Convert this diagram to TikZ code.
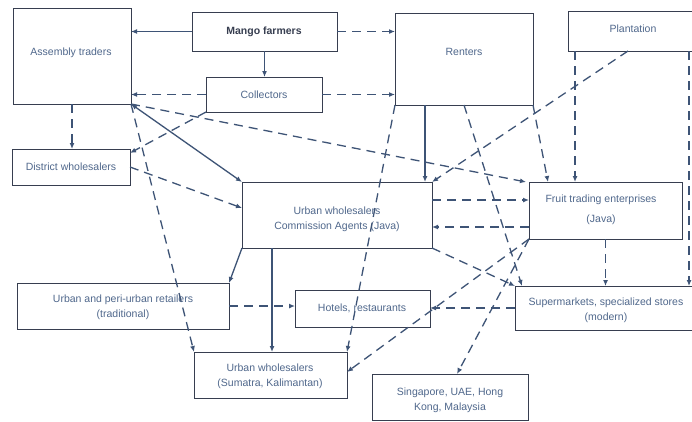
\documentclass[tikz,border=0pt]{standalone}
\usepackage{fontspec}
\setmainfont{Liberation Sans}
\usetikzlibrary{arrows.meta,calc}
\definecolor{linecol}{RGB}{62,84,118}
\definecolor{boxcol}{RGB}{55,62,80}
\definecolor{txtcol}{RGB}{80,104,140}
\tikzset{
  chainbox/.style={draw=boxcol, line width=1pt, inner sep=0pt, outer sep=0pt, anchor=north west},
  lbl/.style={text=txtcol, align=center, font=\fontsize{10.5}{15}\selectfont, inner sep=0pt},
  flow/.style={draw=linecol, line width=1.3pt, -{Latex[length=6pt,width=5pt]}},
  flowdash/.style={flow, dash pattern=on 9pt off 6pt},
}
\begin{document}
\begin{tikzpicture}[x=1pt,y=-1pt]
\clip (0,0) rectangle (692,421);
\fill[white] (0,0) rectangle (692,421);

% boxes
\node[chainbox, minimum width=118, minimum height=96] (assembly) at (13,8) {};
\node[chainbox, minimum width=145, minimum height=39] (mango) at (192,12) {};
\node[chainbox, minimum width=116, minimum height=35] (collectors) at (206,77) {};
\node[chainbox, minimum width=118, minimum height=36] (district) at (12,149) {};
\node[chainbox, minimum width=138, minimum height=92] (renters) at (395,13) {};
\node[chainbox, minimum width=137, minimum height=40] (plantation) at (568,11) {};
\node[chainbox, minimum width=190, minimum height=66] (ujava) at (242,182) {};
\node[chainbox, minimum width=153, minimum height=57] (fruit) at (529,182) {};
\node[chainbox, minimum width=212, minimum height=46] (retail) at (17,283) {};
\node[chainbox, minimum width=135, minimum height=37] (hotels) at (295,290) {};
\node[chainbox, minimum width=190, minimum height=44] (super) at (515,286) {};
\node[chainbox, minimum width=153, minimum height=46] (sumatra) at (194,352) {};
\node[chainbox, minimum width=156, minimum height=46] (singapore) at (372,374) {};

% labels
\node[lbl] (t-assembly) at (71,53) {Assembly traders};
\node[lbl, font=\fontsize{10.5}{15}\selectfont\bfseries, text=boxcol] (t-mango) at (264,32) {Mango farmers};
\node[lbl] (t-collectors) at (264,95) {Collectors};
\node[lbl] (t-district) at (71,167) {District wholesalers};
\node[lbl] (t-renters) at (464,52) {Renters};
\node[lbl] (t-plantation) at (633,29) {Plantation};
\node[lbl] (t-ujava) at (337,219) {Urban wholesalers\\Commission Agents (Java)};
\node[lbl] (t-fruit) at (601,210) {Fruit trading enterprises\\[5pt](Java)};
\node[lbl] (t-retail) at (123,307) {Urban and peri-urban retailers\\(traditional)};
\node[lbl] (t-hotels) at (362,308) {Hotels, restaurants};
\node[lbl] (t-super) at (606,310) {Supermarkets, specialized stores\\(modern)};
\node[lbl] (t-sumatra) at (270,376) {Urban wholesalers\\(Sumatra, Kalimantan)};
\node[lbl] (t-singapore) at (450,400) {Singapore, UAE, Hong\\Kong, Malaysia};

% helper points on box edges
\coordinate (r1) at ([xshift=-7pt]ujava.north east);
\coordinate (u1) at ([xshift=30pt]ujava.south west);
\coordinate (u2) at ([yshift=-18pt]ujava.north east);
\coordinate (u3) at ([yshift=-45pt]ujava.north east);
\coordinate (p1) at ([xshift=7pt]plantation.south west);
\coordinate (p2) at ([xshift=121pt]plantation.south west);
\coordinate (p3) at ([xshift=60pt]plantation.south west);

% solid flows
\draw[flow] (mango.west) -- (mango.west -| assembly.east);
\draw[flow] (mango.south) -- (mango.south |- collectors.north);
\draw[flow, {Latex[length=6pt,width=5pt]}-{Latex[length=6pt,width=5pt]}] (assembly.south east) -- (ujava.north west);
\draw[flow] (r1 |- renters.south) -- (r1);
\draw[flow] (ujava.south west) -- (retail.north east);
\draw[flow] (u1) -- (u1 |- sumatra.north);

% dashed flows
\draw[flowdash] (mango.east) -- (mango.east -| renters.west);
\draw[flowdash] (collectors.west) -- (collectors.west -| assembly.east);
\draw[flowdash] (collectors.east) -- (collectors.east -| renters.west);
\draw[flowdash] (assembly.south) -- (assembly.south |- district.north);
\draw[flowdash] (collectors.south west) -- ([yshift=-4pt]district.north east);
\draw[flowdash] (assembly.south east) -- ([xshift=-3pt]fruit.north west);
\draw[flowdash] (district.east) -- ([yshift=7pt]ujava.west);
\draw[flowdash] (assembly.south east) -- (sumatra.north west);
\draw[flowdash] (renters.south west) -- (sumatra.north east);
\draw[flowdash] (renters.south) -- ([xshift=7pt]super.north west);
\draw[flowdash] (renters.south east) -- ([xshift=19pt]fruit.north west);
\draw[flowdash] (p1) -- (p1 |- fruit.north);
\draw[flowdash] (p2) -- (p2 |- super.north);
\draw[flowdash] (p3) -- (ujava.north east);
\draw[flowdash] (u2) -- (u2 -| fruit.west);
\draw[flowdash] (u3 -| fruit.west) -- (u3);
\draw[flowdash] (ujava.south east) -- (super.north west);
\draw[flowdash] (fruit.south) -- (fruit.south |- super.north);
\draw[flowdash] (super.west) -- (super.west -| hotels.east);
\draw[flowdash] (retail.east) -- (retail.east -| hotels.west);
\draw[flowdash] (fruit.south west) -- ([yshift=-20pt]sumatra.north east);
\draw[flowdash] (fruit.south west) -- ([xshift=7pt]singapore.north);
\end{tikzpicture}
\end{document}
